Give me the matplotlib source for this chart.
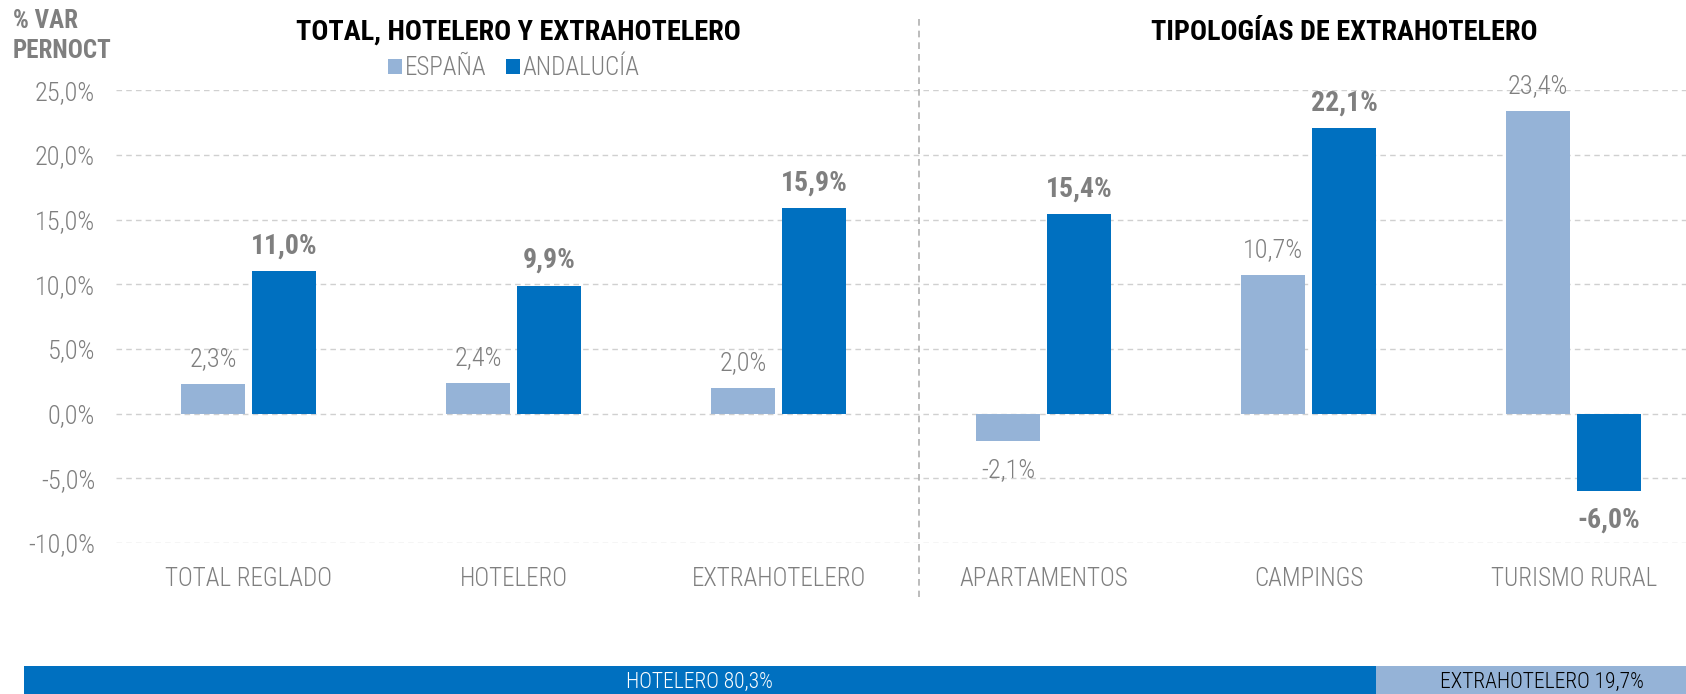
import matplotlib
matplotlib.use("Agg")
import matplotlib.pyplot as plt
import matplotlib.transforms as mtransforms
from matplotlib import font_manager as fm
import numpy as np

categories = ["TOTAL REGLADO", "HOTELERO", "EXTRAHOTELERO", "APARTAMENTOS", "CAMPINGS", "TURISMO RURAL"]
espana = [2.3, 2.4, 2.0, -2.1, 10.7, 23.4]
andalucia = [11.0, 9.9, 15.9, 15.4, 22.1, -6.0]
yticks = [-10, -5, 0, 5, 10, 15, 20, 25]
share_labels = ["HOTELERO", "EXTRAHOTELERO"]
share_values = [80.3, 19.7]

C_ES = "#95B3D7"
C_AN = "#0070C0"
GRAY = "#7f7f7f"


def pick(bold):
    prefs = ["liberationsansnarrow", "arialnarrow", "robotocondensed", "opensanscondensed",
             "dejavusanscondensed"]
    cands = []
    for f in fm.fontManager.ttflist:
        base = f.fname.split("/")[-1].lower().replace("-", "").replace("_", "")
        isbold = "bold" in base
        if "italic" in base or "oblique" in base:
            continue
        if isbold != bold:
            continue
        for i, p in enumerate(prefs):
            if base.startswith(p):
                cands.append((i, len(base), f.fname))
    if cands:
        cands.sort()
        return cands[0][2]
    return None


REG = pick(False)
BLD = pick(True)


def fp(size, bold=False):
    path = BLD if bold else REG
    if path:
        return fm.FontProperties(fname=path, size=size)
    return fm.FontProperties(family="DejaVu Sans", size=size, weight="bold" if bold else "normal",
                             stretch="condensed")


W, H = 1686, 694
fig = plt.figure(figsize=(W / 100, H / 100), dpi=100)

ax_l = 116 / W
ax_b = 1 - 543 / H
ax_t = 1 - 90.3 / H
ax = fig.add_axes([ax_l, ax_b, 1 - ax_l, ax_t - ax_b])

x = np.arange(len(categories))
bw = 0.244
off = 0.134
b1 = ax.bar(x - off, espana, bw, color=C_ES, zorder=3)
b2 = ax.bar(x + off, andalucia, bw, color=C_AN, zorder=3)

ax.set_xlim(-0.5, 5.424)
ax.set_ylim(-10, 25)
ax.set_yticks(yticks)
ax.yaxis.grid(True, color="#d0d0d0", linestyle=(0, (4, 3)), linewidth=1.0, zorder=0)
ax.set_axisbelow(True)
for s in ax.spines.values():
    s.set_visible(False)
ax.tick_params(axis="both", length=0, colors=GRAY)
ax.tick_params(axis="y", pad=15)
ax.tick_params(axis="x", pad=17)
ax.set_xticks(x)


def fmt(v):
    return f"{v:.1f}%".replace(".", ",")


ax.set_yticklabels([fmt(v) for v in yticks], fontproperties=fp(19))
ax.set_xticklabels(categories, fontproperties=fp(18))

for rect, v in zip(b1, espana):
    cx = rect.get_x() + rect.get_width() / 2
    dy = 18 if v >= 0 else -21
    ax.annotate(fmt(v), (cx, v), xytext=(0, dy), textcoords="offset points",
                ha="center", va="center", color=GRAY, fontproperties=fp(19))
for rect, v in zip(b2, andalucia):
    cx = rect.get_x() + rect.get_width() / 2
    dy = 18 if v >= 0 else -21
    ax.annotate(fmt(v), (cx, v), xytext=(0, dy), textcoords="offset points",
                ha="center", va="center", color=GRAY, fontproperties=fp(20, True))

# divider
trans = mtransforms.blended_transform_factory(ax.transData, ax.transAxes)
ax.plot([2.53, 2.53], [1.157, -0.119], transform=trans, clip_on=False,
        color="#b0b0b0", linestyle=(0, (4, 3)), linewidth=1.2)

# titles
fig.text(518 / W, 1 - 32 / H, "TOTAL, HOTELERO Y EXTRAHOTELERO", ha="center", va="center",
         fontproperties=fp(20.3, True), color="black")
fig.text(1344 / W, 1 - 32 / H, "TIPOLOGÍAS DE EXTRAHOTELERO", ha="center", va="center",
         fontproperties=fp(20.3, True), color="black")
fig.text(13 / W, 1 - 36 / H, "% VAR\nPERNOCT", ha="left", va="center",
         fontproperties=fp(18, True), color=GRAY, linespacing=1.3)

# legend
leg = ax.legend([b1, b2], ["ESPAÑA", "ANDALUCÍA"], loc="center",
                bbox_to_anchor=(514 / W, 1 - 68 / H), bbox_transform=fig.transFigure,
                ncol=2, frameon=False, prop=fp(18), handlelength=0.55, handleheight=0.55,
                handletextpad=0.1, columnspacing=0.8, labelcolor=GRAY)

# bottom share bar
bx_l = 23.7 / W
axb = fig.add_axes([bx_l, 0, 1 - bx_l, 28 / H])
left = 0
cols = [C_AN, C_ES]
tcols = ["white", "black"]
for lab, v, c, tc in zip(share_labels, share_values, cols, tcols):
    axb.barh(0, v, left=left, height=1, color=c)
    axb.text(left + v / 2, -0.08, f"{lab} {fmt(v)}", ha="center", va="center",
             color=tc, fontproperties=fp(15.5))
    left += v
axb.set_xlim(0, 98.7)
axb.set_ylim(-0.5, 0.5)
axb.axis("off")

fig.savefig("out.png", dpi=100)
